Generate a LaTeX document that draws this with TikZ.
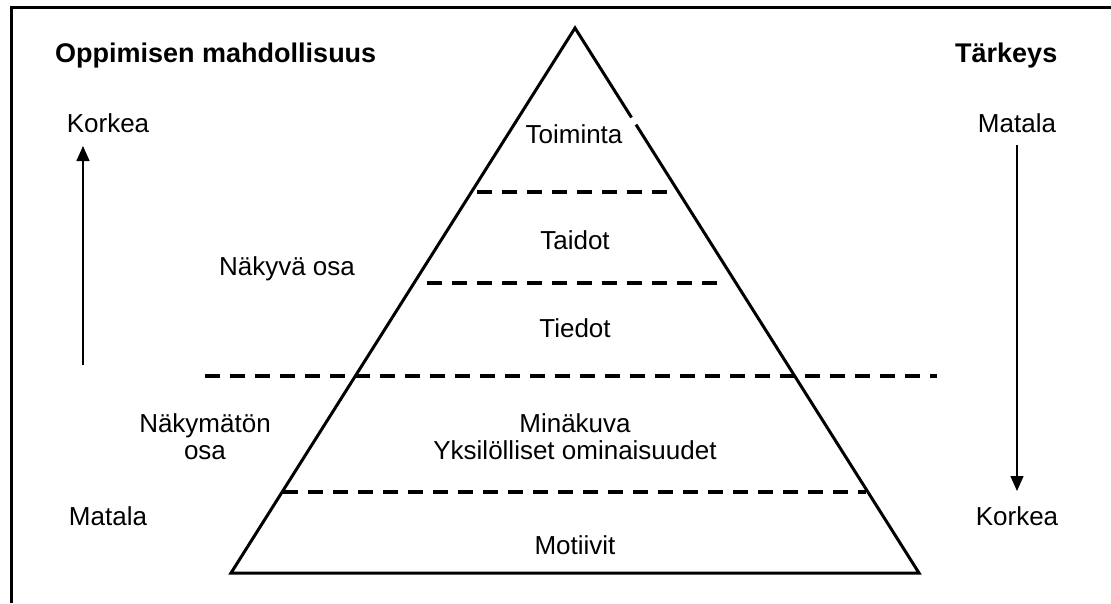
\documentclass[tikz,border=0pt]{standalone}
\usepackage{fontspec}
\setmainfont{Liberation Sans}
\usetikzlibrary{arrows.meta}
\begin{document}
\begin{tikzpicture}[x=1pt,y=-1pt,
  lbl/.style={font=\fontsize{26}{27}\selectfont, inner sep=0pt, align=center, anchor=base},
  hdr/.style={font=\bfseries\fontsize{27}{30}\selectfont, inner sep=0pt, anchor=base west},
  edgeline/.style={line width=3pt, line join=miter},
  level/.style={line width=4.5pt, dash pattern=on 15pt off 10pt},
  axis/.style={line width=1.5pt, -{Triangle[length=15pt,width=13pt]}}]
\useasboundingbox (0,0) rectangle (1111,603);
% frame
\draw[line width=3pt] (11,603) -- (11,7) -- (1111,7);
% pyramid
\coordinate (apex) at (575,28);
\coordinate (bl) at (231,573);
\coordinate (br) at (919,573);
\coordinate (g1) at (631.5,117.5);
\coordinate (g2) at (636,124.6);
\draw[edgeline] (g1) -- (apex) -- (bl) -- (br) -- (g2);
% levels
\coordinate (d1l) at (477,192); \coordinate (d1r) at (673,192);
\coordinate (d2l) at (427,283); \coordinate (d2r) at (723,283);
\coordinate (d3l) at (205,376); \coordinate (d3r) at (937,376);
\coordinate (d4l) at (283,492); \coordinate (d4r) at (866,492);
\draw[level] (d1l) -- (d1r);
\draw[level] (d2l) -- (d2r);
\draw[level] (d3l) -- (d3r);
\draw[level] (d4l) -- (d4r);
% headings
\node[hdr] (hl) at (55,62) {Oppimisen mahdollisuus};
\node[hdr] (hr) at (955,62) {Tärkeys};
% left axis
\node[lbl] (lk) at (108,132) {Korkea};
\node[lbl] (lm) at (108,525) {Matala};
\coordinate (la0) at (83,365);
\coordinate (la1) at (83,146);
\draw[axis] (la0) -- (la1);
% right axis
\node[lbl] (rm) at (1017,132) {Matala};
\node[lbl] (rk) at (1017,525) {Korkea};
\coordinate (ra0) at (1017,145);
\coordinate (ra1) at (1017,491);
\draw[axis] (ra0) -- (ra1);
% level labels
\node[lbl] (toim) at (574,143) {Toiminta};
\node[lbl] (taid) at (575,249) {Taidot};
\node[lbl] (tied) at (575,337) {Tiedot};
\node[lbl] (naky) at (287,275) {Näkyvä osa};
\node[lbl] (nakym) at (205,459) {Näkymätön\\osa};
\node[lbl] (mina) at (575,459) {Minäkuva\\Yksilölliset ominaisuudet};
\node[lbl] (moti) at (575,554) {Motiivit};
\end{tikzpicture}
\end{document}
